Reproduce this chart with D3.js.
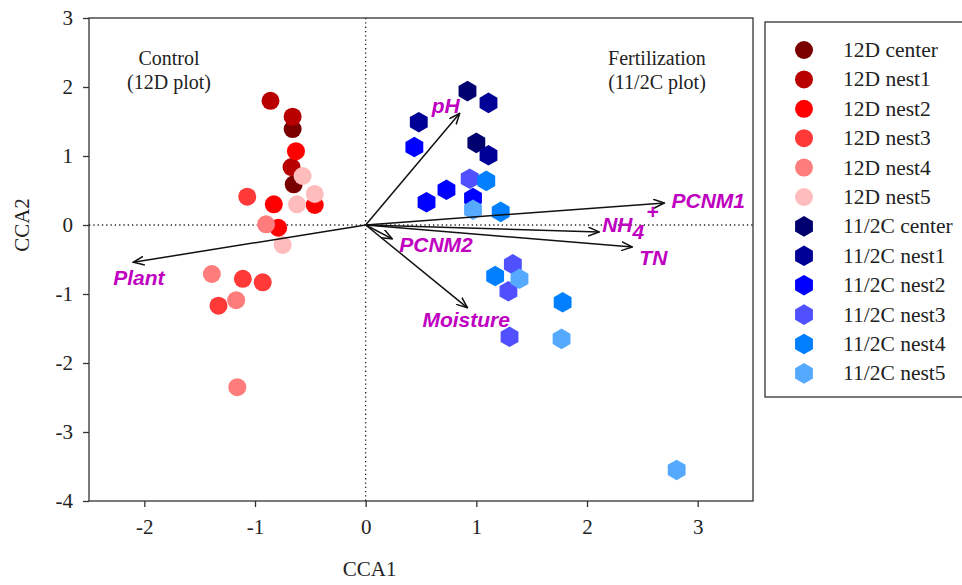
<!DOCTYPE html>
<html>
<head>
<meta charset="utf-8">
<script src="https://cdn.jsdelivr.net/npm/d3@7"></script>
<style>
  html, body { margin: 0; padding: 0; background: #fff; }
  svg { display: block; }
</style>
</head>
<body>
<svg id="chart" width="962" height="585"></svg>
<script>
// ---------------- DATA ----------------
const groups = ["12D center", "12D nest1", "12D nest2", "12D nest3", "12D nest4", "12D nest5",
                "11/2C center", "11/2C nest1", "11/2C nest2", "11/2C nest3", "11/2C nest4", "11/2C nest5"];
const groupColors = ["#7a0000", "#b80000", "#ff0000", "#ff3838", "#ff7c7c", "#ffbcbc",
                     "#00006e", "#000096", "#0000ff", "#5050ff", "#0080ff", "#55aaff"];
const groupShapes = ["circle", "circle", "circle", "circle", "circle", "circle",
                     "hex", "hex", "hex", "hex", "hex", "hex"];

// site scores [CCA1, CCA2] per group
const pts12Dcenter = [[-0.66, 1.39], [-0.65, 0.59]];
const pts12Dnest1 = [[-0.86, 1.80], [-0.66, 1.57], [-0.67, 0.84]];
const pts12Dnest2 = [[-0.63, 1.07], [-0.83, 0.30], [-0.46, 0.29], [-0.79, -0.04]];
const pts12Dnest3 = [[-1.07, 0.41], [-1.11, -0.78], [-0.93, -0.83], [-1.33, -1.17]];
const pts12Dnest4 = [[-0.90, 0.01], [-1.39, -0.71], [-1.17, -1.09], [-1.16, -2.35]];
const pts12Dnest5 = [[-0.57, 0.71], [-0.62, 0.30], [-0.46, 0.45], [-0.75, -0.29]];
const pts11center = [[0.92, 1.94], [1.00, 1.19]];
const pts11nest1 = [[1.11, 1.77], [0.48, 1.49], [1.11, 1.01]];
const pts11nest2 = [[0.44, 1.13], [0.73, 0.51], [0.55, 0.33], [0.97, 0.39]];
const pts11nest3 = [[0.94, 0.67], [1.33, -0.57], [1.29, -0.96], [1.30, -1.62]];
const pts11nest4 = [[1.09, 0.64], [1.22, 0.19], [1.17, -0.74], [1.78, -1.12]];
const pts11nest5 = [[0.97, 0.22], [1.39, -0.78], [1.77, -1.65], [2.81, -3.55]];
const groupPoints = [pts12Dcenter, pts12Dnest1, pts12Dnest2, pts12Dnest3, pts12Dnest4, pts12Dnest5,
                     pts11center, pts11nest1, pts11nest2, pts11nest3, pts11nest4, pts11nest5];

// environmental vectors
const vectorNames = ["pH", "PCNM1", "NH4", "TN", "PCNM2", "Moisture", "Plant"];
const vectorCCA1 = [0.85, 2.70, 2.11, 2.41, 0.24, 0.92, -2.10];
const vectorCCA2 = [1.62, 0.32, -0.10, -0.32, -0.20, -1.20, -0.54];

const xTicks = [-2, -1, 0, 1, 2, 3];
const yTicks = [-4, -3, -2, -1, 0, 1, 2, 3];
const xDomain = [-2.5, 3.5];
const yDomain = [-4, 3];

// ---------------- DRAW ----------------
const svg = d3.select("#chart");
const L = 89, R = 753, T = 18, B = 501;
const x = d3.scaleLinear().domain(xDomain).range([L, R]);
const y = d3.scaleLinear().domain(yDomain).range([B, T]);
const serif = "'Liberation Serif', 'Times New Roman', serif";
const sans = "'Liberation Sans', Arial, sans-serif";
const magenta = "#c000c0";

// axes
const xAxis = svg.append("g").attr("transform", `translate(0,${B})`)
  .call(d3.axisBottom(x).tickValues(xTicks).tickSize(6).tickPadding(12).tickFormat(d3.format("d")));
const yAxis = svg.append("g").attr("transform", `translate(${L},0)`)
  .call(d3.axisLeft(y).tickValues(yTicks).tickSize(6).tickPadding(10).tickFormat(d3.format("d")));
[xAxis, yAxis].forEach(a => {
  a.select(".domain").remove();
  a.selectAll("line").attr("stroke", "#333").attr("stroke-width", 1.3);
  a.selectAll("text").attr("font-family", serif).attr("font-size", 21).attr("fill", "#222");
});
xAxis.selectAll("text").each(function(d){ d3.select(this).text(d < 0 ? "-" + Math.abs(d) : d); });
yAxis.selectAll("text").each(function(d){ d3.select(this).text(d < 0 ? "-" + Math.abs(d) : d); });

// frame
svg.append("rect").attr("x", L).attr("y", T).attr("width", R - L).attr("height", B - T)
  .attr("fill", "none").attr("stroke", "#333").attr("stroke-width", 1.3);

// zero dotted lines
svg.append("line").attr("x1", L).attr("x2", R).attr("y1", y(0)).attr("y2", y(0))
  .attr("stroke", "#222").attr("stroke-width", 1.3).attr("stroke-dasharray", "1.3,3");
svg.append("line").attr("x1", x(0)).attr("x2", x(0)).attr("y1", T).attr("y2", B)
  .attr("stroke", "#222").attr("stroke-width", 1.3).attr("stroke-dasharray", "1.3,3");

// axis titles
svg.append("text").attr("x", x(0) + 4).attr("y", 576).attr("text-anchor", "middle")
  .attr("font-family", serif).attr("font-size", 21).attr("fill", "#222").text("CCA1");
svg.append("text").attr("transform", `translate(29,${y(0)}) rotate(-90)`).attr("text-anchor", "middle")
  .attr("font-family", serif).attr("font-size", 21).attr("fill", "#222").text("CCA2");

// annotations
const ann = [["Control", 169, 65], ["(12D plot)", 169, 89], ["Fertilization", 657, 65], ["(11/2C plot)", 657, 89]];
ann.forEach(a => svg.append("text").attr("x", a[1]).attr("y", a[2]).attr("text-anchor", "middle")
  .attr("font-family", serif).attr("font-size", 20).attr("fill", "#222").text(a[0]));

// symbols
const hexPath = (r) => {
  const p = [];
  for (let i = 0; i < 6; i++) {
    const a = Math.PI / 3 * i - Math.PI / 2;
    p.push([r * Math.cos(a), r * Math.sin(a)]);
  }
  return "M" + p.map(q => q.join(",")).join("L") + "Z";
};
function drawSymbol(g, shape, color, cx, cy) {
  if (shape === "circle") {
    g.append("circle").attr("cx", cx).attr("cy", cy).attr("r", 9).attr("fill", color);
  } else {
    g.append("path").attr("d", hexPath(10.3)).attr("transform", `translate(${cx},${cy})`).attr("fill", color);
  }
}

const ptsG = svg.append("g");
groupPoints.forEach((pts, gi) => {
  pts.forEach(p => drawSymbol(ptsG, groupShapes[gi], groupColors[gi], x(p[0]), y(p[1])));
});

// vectors
const defs = svg.append("defs");
defs.append("marker").attr("id", "arr").attr("viewBox", "0 0 12 10").attr("refX", 11).attr("refY", 5)
  .attr("markerWidth", 12).attr("markerHeight", 10).attr("markerUnits", "userSpaceOnUse").attr("orient", "auto")
  .append("path").attr("d", "M0,0.5 L11,5 L0,9.5").attr("fill", "none").attr("stroke", "#111").attr("stroke-width", 1.5);

const vecG = svg.append("g");
vectorNames.forEach((n, i) => {
  vecG.append("line").attr("x1", x(0)).attr("y1", y(0)).attr("x2", x(vectorCCA1[i])).attr("y2", y(vectorCCA2[i]))
    .attr("stroke", "#111").attr("stroke-width", 1.5).attr("marker-end", "url(#arr)");
});

// vector labels (offset from arrow tip in px)
const labelDx = [-28, 7, 3, 7, 7, -45, -20];
const labelDy = [0, 5, 0, 18, 13, 19, 23];
vectorNames.forEach((n, i) => {
  const t = vecG.append("text").attr("x", x(vectorCCA1[i]) + labelDx[i]).attr("y", y(vectorCCA2[i]) + labelDy[i])
    .attr("font-family", sans).attr("font-size", 21).attr("font-weight", "bold").attr("font-style", "italic")
    .attr("fill", magenta);
  if (n === "NH4") {
    t.append("tspan").text("NH");
    t.append("tspan").attr("dy", 7).text("4");
    t.append("tspan").attr("dy", -20).attr("dx", 2).attr("font-size", 21).text("+");
  } else {
    t.text(n);
  }
});

// legend
const lg = svg.append("g");
lg.append("rect").attr("x", 765).attr("y", 22).attr("width", 200).attr("height", 375)
  .attr("fill", "#fff").attr("stroke", "#333").attr("stroke-width", 1.3);
groups.forEach((g, i) => {
  const cy = 50 + i * 29.4;
  drawSymbol(lg, groupShapes[i], groupColors[i], 804, cy);
  lg.append("text").attr("x", 843).attr("y", cy + 7).attr("font-family", serif).attr("font-size", 21.5)
    .attr("fill", "#222").text(g);
});
</script>
</body>
</html>
